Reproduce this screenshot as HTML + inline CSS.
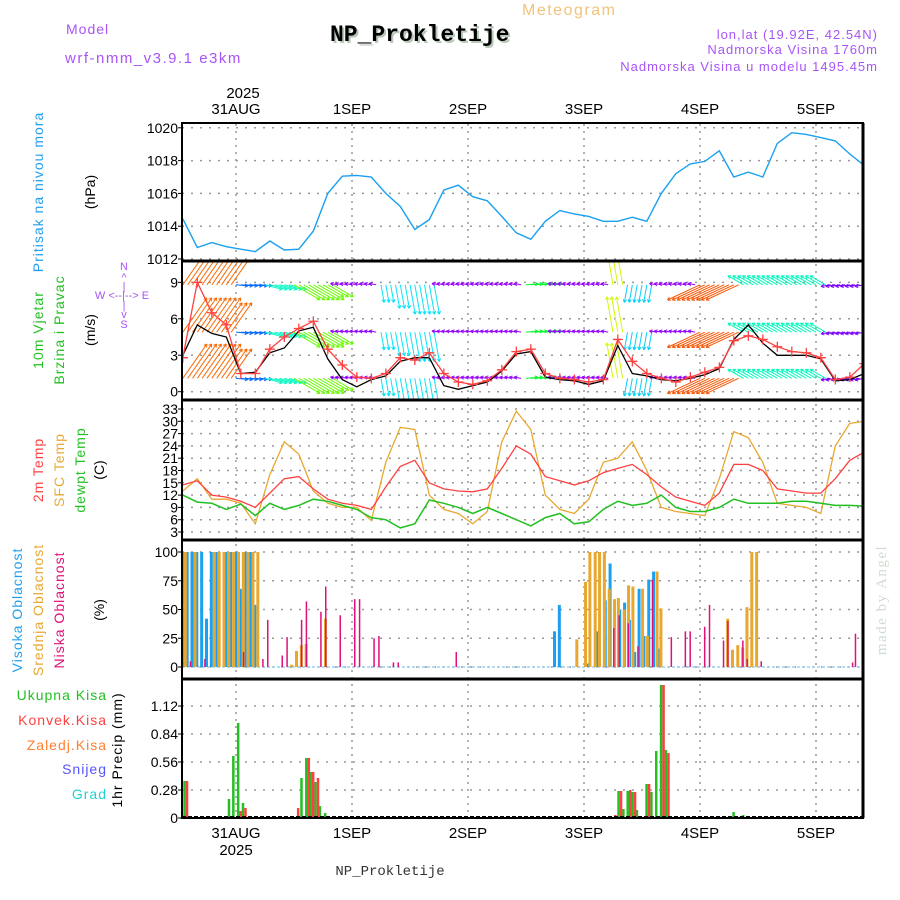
<!DOCTYPE html>
<html><head><meta charset="utf-8"><title>Meteogram NP_Prokletije</title>
<style>
html,body{margin:0;padding:0;background:#fff;}
svg{display:block;font-family:"Liberation Sans",sans-serif;}
</style></head>
<body>
<svg id="chart" width="900" height="900" viewBox="0 0 900 900" xmlns="http://www.w3.org/2000/svg">
  <defs>
    <clipPath id="c1"><rect x="183" y="124" width="680" height="137"/></clipPath>
    <clipPath id="c2"><rect x="183" y="262" width="680" height="137"/></clipPath>
    <clipPath id="c3"><rect x="183" y="401" width="680" height="138"/></clipPath>
    <clipPath id="c4"><rect x="183" y="541" width="680" height="137"/></clipPath>
    <clipPath id="c5"><rect x="183" y="680" width="680" height="137"/></clipPath>
  </defs>

  <text x="66" y="34" font-size="14" fill="#a855f7" letter-spacing="1">Model</text>
  <text x="65" y="63" font-size="15" fill="#a855f7" letter-spacing="1.5">wrf-nmm_v3.9.1 e3km</text>
  <text x="522" y="15" font-size="16" fill="#f2c37a" letter-spacing="1.5">Meteogram</text>
  <text x="332" y="43" font-size="23" font-weight="bold" fill="#b8c8b8" font-family="Liberation Mono, monospace">NP_Prokletije</text>
  <text x="330" y="41" font-size="23" font-weight="bold" fill="#000" font-family="Liberation Mono, monospace">NP_Prokletije</text>
  <text x="878" y="39" font-size="13" fill="#a855f7" text-anchor="end" letter-spacing="1">lon,lat (19.92E, 42.54N)</text>
  <text x="878" y="54" font-size="13" fill="#a855f7" text-anchor="end" letter-spacing="1">Nadmorska Visina 1760m</text>
  <text x="878" y="71" font-size="13" fill="#a855f7" text-anchor="end" letter-spacing="1">Nadmorska Visina u modelu 1495.45m</text>

  <g id="grid"></g>
  <g id="marks"></g>
  <g id="frames"></g>
  <g id="labels"></g>

  <text transform="translate(43,192) rotate(-90)" font-size="14" fill="#22a0f0" text-anchor="middle" letter-spacing="1">Pritisak na nivou mora</text>
  <text transform="translate(95,192) rotate(-90)" font-size="14" fill="#000" text-anchor="middle">(hPa)</text>

  <text transform="translate(43,330) rotate(-90)" font-size="14" fill="#22c022" text-anchor="middle" letter-spacing="1">10m Vjetar</text>
  <text transform="translate(64,330) rotate(-90)" font-size="14" fill="#22c022" text-anchor="middle" letter-spacing="1">Brzina i Pravac</text>
  <text transform="translate(95,330) rotate(-90)" font-size="14" fill="#000" text-anchor="middle">(m/s)</text>
  <g fill="#a855f7" font-size="11" text-anchor="middle">
    <text x="124" y="270">N</text><text x="124" y="281">^</text><text x="124" y="290">|</text>
    <text x="122" y="299" font-size="11">W &lt;--|--&gt; E</text>
    <text x="124" y="309">|</text><text x="124" y="318">v</text><text x="124" y="328">S</text>
  </g>

  <text transform="translate(43,470) rotate(-90)" font-size="14" fill="#ff4040" text-anchor="middle" letter-spacing="1">2m Temp</text>
  <text transform="translate(64,470) rotate(-90)" font-size="14" fill="#e8a830" text-anchor="middle" letter-spacing="1">SFC Temp</text>
  <text transform="translate(85,470) rotate(-90)" font-size="14" fill="#22c022" text-anchor="middle" letter-spacing="1">dewpt Temp</text>
  <text transform="translate(104,470) rotate(-90)" font-size="14" fill="#000" text-anchor="middle">(C)</text>

  <text transform="translate(22,610) rotate(-90)" font-size="14" fill="#22a0f0" text-anchor="middle" letter-spacing="1">Visoka Oblacnost</text>
  <text transform="translate(43,610) rotate(-90)" font-size="14" fill="#e8a830" text-anchor="middle" letter-spacing="1">Srednja Oblacnost</text>
  <text transform="translate(64,610) rotate(-90)" font-size="14" fill="#e0107a" text-anchor="middle" letter-spacing="1">Niska Oblacnost</text>
  <text transform="translate(104,610) rotate(-90)" font-size="14" fill="#000" text-anchor="middle">(%)</text>

  <g font-size="14" text-anchor="end" letter-spacing="1">
    <text x="107" y="700" fill="#22c022">Ukupna Kisa</text>
    <text x="107" y="725" fill="#ff4040">Konvek.Kisa</text>
    <text x="107" y="750" fill="#ff7f30">Zaledj.Kisa</text>
    <text x="107" y="774" fill="#5555ff">Snijeg</text>
    <text x="107" y="799" fill="#22d0d0">Grad</text>
  </g>
  <text transform="translate(122,750) rotate(-90)" font-size="14" fill="#000" text-anchor="middle" letter-spacing="1">1hr Precip (mm)</text>

  <text transform="translate(886,600) rotate(-90)" font-size="15" fill="#d0dcd0" text-anchor="middle" font-family="Liberation Serif, serif" letter-spacing="1.5">made by Angel</text>
  <text x="390" y="875" font-size="14" fill="#333" text-anchor="middle" font-family="Liberation Mono, monospace">NP_Prokletije</text>
</svg>

<script>
const dayLabels = ["31AUG","1SEP","2SEP","3SEP","4SEP","5SEP"];
const dayHours = [0,24,48,72,96,120];
const times3h = [-11,-8,-5,-2,1,4,7,10,13,16,19,22,25,28,31,34,37,40,43,46,49,52,55,58,61,64,67,70,73,76,79,82,85,88,91,94,97,100,103,106,109,112,115,118,121,124,127,130];
const pressure = [1014.45,1012.7,1013.0,1012.75,1012.6,1012.45,1013.1,1012.55,1012.6,1013.7,1016.0,1017.05,1017.1,1017.0,1016.0,1015.2,1013.8,1014.4,1016.2,1016.5,1015.8,1015.55,1014.6,1013.6,1013.2,1014.3,1014.95,1014.75,1014.6,1014.3,1014.3,1014.55,1014.3,1016.0,1017.2,1017.8,1017.95,1018.6,1017.0,1017.3,1017.0,1019.05,1019.7,1019.6,1019.4,1019.2,1018.4,1017.7];
const pressureTicks = [1012,1014,1016,1018,1020];
const windRed = [2.8,9,6.5,5.5,1.5,1.5,3.5,4.5,5.2,5.8,3.5,2.2,1.2,1.1,1.5,2.8,2.6,3.2,1.5,0.8,0.6,0.9,1.8,3.3,3.5,1.5,1.1,1.0,0.8,1.0,4.3,2.5,1.5,1.1,0.8,1.2,1.6,2.0,4.2,4.6,4.3,3.7,3.3,3.2,2.8,1.0,1.2,2.3];
const windBlack = [3.0,5.5,4.8,4.5,1.5,1.6,3.2,3.6,5.0,5.3,2.7,1.0,0.4,1.0,1.3,2.5,2.8,2.8,0.5,0.2,0.5,0.8,1.7,3.1,3.3,1.2,1.0,0.9,0.6,0.9,3.8,1.5,1.3,1.0,0.9,1.1,1.4,1.9,4.3,5.5,4.0,3.0,3.0,3.0,2.7,0.9,1.0,1.5];
const windAng = [55,55,55,55,-5,-5,-15,-15,-30,-30,-30,170,170,170,-80,-80,-80,-80,170,170,170,170,170,170,5,5,170,170,170,170,100,-100,-100,170,170,170,205,205,205,150,150,150,150,150,150,-170,-170,-170];
const windLen = [3.5,3.5,3.5,3,1,1,1.5,1.5,2.5,2.5,2,0.6,0.6,0.6,1.5,2,2.5,2.5,0.6,0.6,0.6,0.6,0.6,0.6,1,1,0.6,0.6,0.6,0.6,3,1.5,1.5,0.6,0.6,0.6,3,3,3,1.5,1.5,1.5,1.5,1.5,1.5,0.8,0.8,0.8];
const windRows = [8.8,4.9,1.1];
const windTicks = [0,3,6,9];
const temp2m = [14.5,15.5,12,11.5,10.5,9,12.5,16,16.5,13.5,11,10,9.5,8.5,14,19,20.5,15,13.5,13,12.8,13.5,18.5,24,22,16.5,15.5,14.5,15.5,17.5,18.5,19.5,17,14,11.5,10.5,9.5,12.5,19.5,19.5,18,13.5,13,12.5,12.5,16,20.5,22.5];
const tempSfc = [13,16,11,11,10,5,17,25,22,13,10,9,9,5.8,20,28.5,28,12,8.5,7.5,5,8,25,32.5,28,12,8.5,7.5,11,20,21,25,18,9,8,7.5,7,16,27.5,26,20,10,9.5,9,7.5,24,29.5,30];
const tempDew = [12,10.3,10,8.5,9.8,7,10,8.5,9.5,11,10.5,9.5,8.5,6.5,6,4,5,10.8,10,9,7.5,9,7.5,6,4.5,6.5,7.5,5,5.5,8.5,10.5,9.5,10,12,9,8,8,9,11,10,10,10,10.5,10.5,10,9.5,9.5,9.3];
const tempTicks = [3,6,9,12,15,18,21,24,27,30,33];
const cloudHighT = [-11,-10,-9,-8,-7,-6,-5,-4,-2,-1,0,1,2,3,4,66,67,73,75,76.5,77.5,79.5,80.5,81.5,82.6,83.5,84.5,85.5,86.5,87.4];
const cloudHighV = [100,100,100,100,100,42,100,100,100,100,100,68,100,100,54,31,54,3,31,58,90,50,56,41,13,68,27,76,83,16];
const cloudMidT = [-11,-9,-5,-4,-3,-2,-1,0,1,2,3,4,11,12,13,14,18,70,71.8,72.7,73.8,74.7,75.7,76.7,77.8,78.6,79.8,80.7,81.6,83.6,84.6,86.6,87.4,101.2,102.2,103.3,104.3,105.2,106.2,107.2];
const cloudMidV = [100,100,100,100,100,100,100,100,100,100,100,100,2,14,19,20,42,24,74,100,100,100,100,68,59,60,50,71,70,68,27,83,51,42,15,19,17,52,100,100];
const cloudLowT = [-10,-7,1,5,6,9,10,13,14,17,18,21,24,25,28,29,32,33,45,77.6,78.7,80.6,82.6,85.6,89.5,92.4,93.4,96.4,97.4,100.3,101.2,104.3,105.2,108.1,127,127.6];
const cloudLowV = [5,7,13,7,41,10,26,41,57,48,70,45,59,59,25,27,4,4,13,34,45,38,18,76,26,31,31,35,54,23,40,23,7,5,4,29];
const cloudTicks = [0,25,50,75,100];
const rainTotalT = [-10.6,-1.4,-0.5,0.5,1.5,13.6,14.6,15.5,16.5,17.4,18.5,79.2,80.2,81.1,82.1,83,85,86,87,88,89,103,105];
const rainTotalV = [0.37,0.19,0.62,0.95,0.15,0.4,0.6,0.46,0.36,0.12,0.05,0.27,0.09,0.27,0.26,0.08,0.34,0.26,0.67,1.33,0.68,0.06,0.03];
const rainConvT = [-10.6,0.5,1.5,12.4,14.6,15.5,16.5,78,79.2,81.1,82.1,85,88,89,104];
const rainConvV = [0.37,0.07,0.1,0.1,0.6,0.46,0.4,0.03,0.27,0.28,0.26,0.34,1.33,0.65,0.02];
const precipTicks = [0,0.28,0.56,0.84,1.12];

const X0 = 182, X1 = 863;
const X = h => 236 + h * 116 / 24;
const P = {top:[123,261,400,540,679], bot:[261,400,540,679,818]};
const yP = v => 259 - (v - 1012) * 16.4;
const yW = v => 391.7 - v * 12.15;
const yT = v => 532 - (v - 3) * 4.1;
const yC = v => 667 - v * 1.15;
const yR = v => 818 - v * 100;

const NS = "http://www.w3.org/2000/svg";
function mk(tag, attrs, parent) {
  const e = document.createElementNS(NS, tag);
  for (const k in attrs) e.setAttribute(k, attrs[k]);
  parent.appendChild(e);
  return e;
}
const grid = document.getElementById('grid');
const marks = document.getElementById('marks');
const frames = document.getElementById('frames');
const labels = document.getElementById('labels');

function hgrid(ticks, yf, fmt, name) {
  ticks.forEach(t => {
    const l = mk('line', {x1:X0, x2:X1, y1:yf(t), y2:yf(t), stroke:'#999', 'stroke-width':1.5, 'stroke-dasharray':'2,7'}, grid);
    
    
    const tx = mk('text', {x:178, y:yf(t) + 5, 'font-size':14, 'text-anchor':'end', fill:'#000'}, labels);
    tx.textContent = fmt(t);
    
    
    mk('line', {x1:X0 - 4, x2:X0, y1:yf(t), y2:yf(t), stroke:'#000'}, labels);
  });
}
hgrid(pressureTicks, yP, t => String(t), 'pressure');
hgrid(windTicks, yW, t => String(t), 'wind');
hgrid(tempTicks, yT, t => String(t), 'temp');
hgrid(cloudTicks, yC, t => String(t), 'cloud');
hgrid(precipTicks, yR, t => t === 0 ? '0' : t.toFixed(2), 'precip');

dayHours.forEach((d, i) => {
  const gl = mk('line', {x1:X(d), x2:X(d), y1:124, y2:818, stroke:'#999', 'stroke-width':1.5, 'stroke-dasharray':'2,5'}, grid);
  
  
  const t1 = mk('text', {x:X(d), y:114, 'font-size':15, 'text-anchor':'middle', fill:'#000'}, labels);
  t1.textContent = dayLabels[i];
  
  
  const t2 = mk('text', {x:X(d), y:838, 'font-size':15, 'text-anchor':'middle', fill:'#000'}, labels);
  t2.textContent = dayLabels[i];
  
  
});
const y1 = mk('text', {x:X(0) + 7, y:98, 'font-size':15, 'text-anchor':'middle'}, labels);
y1.textContent = '2025';


const y2 = mk('text', {x:X(0), y:855, 'font-size':15, 'text-anchor':'middle'}, labels);
y2.textContent = '2025';



function polyline(vals, yf, color, clip, name, w) {
  const pts = times3h.map((t, i) => X(t).toFixed(1) + ',' + yf(vals[i]).toFixed(1)).join(' ');
  const p = mk('polyline', {points:pts, fill:'none', stroke:color, 'stroke-width':w || 1.3, 'clip-path':'url(#' + clip + ')'}, marks);
  
  
  return p;
}

polyline(pressure, yP, '#1aa0f0', 'c1', 'pressure-line', 1.4);

const anchors = [[-180,280],[-100,190],[-80,185],[-30,95],[-5,215],[5,130],[55,25],[100,70],[150,165],[170,275],[195,285],[205,20],[360,280]];
function windColor(a) {
  if (a < -180) a += 360;
  if (a > 205) a -= 360;
  for (let i = 0; i < anchors.length - 1; i++) {
    const [a0, h0] = anchors[i], [a1, h1] = anchors[i + 1];
    if (a >= a0 && a <= a1) {
      const f = (a - a0) / (a1 - a0 || 1);
      return 'hsl(' + (h0 + (h1 - h0) * f) + ',95%,50%)';
    }
  }
  return 'hsl(280,90%,55%)';
}
const wg = mk('g', {'clip-path':'url(#c2)'}, marks);


for (let h = -11; h <= 130; h += 1) {
  const idx = Math.min(times3h.length - 1, Math.max(0, Math.round((h - times3h[0]) / 3)));
  const a = windAng[idx] * Math.PI / 180;
  const L = windLen[idx] * 12;
  const col = windColor(windAng[idx]);
  windRows.forEach(r => {
    const x0 = X(h), y0 = yW(r);
    const x1 = x0 + L * Math.cos(a), y1e = y0 - L * Math.sin(a);
    const ar = mk('path', {
      d: 'M' + x0 + ' ' + y0 + 'L' + x1 + ' ' + y1e +
         'M' + x1 + ' ' + y1e + 'L' + (x1 - 3.5 * Math.cos(a - 0.5)) + ' ' + (y1e + 3.5 * Math.sin(a - 0.5)) +
         'M' + x1 + ' ' + y1e + 'L' + (x1 - 3.5 * Math.cos(a + 0.5)) + ' ' + (y1e + 3.5 * Math.sin(a + 0.5)),
      stroke: col, 'stroke-width': 1, fill: 'none'}, wg);
    
    
  });
}
polyline(windBlack, yW, '#000', 'c2', 'wind-speed-black-line', 1.3);
polyline(windRed, yW, '#ff4040', 'c2', 'wind-gust-red-line', 1.3);
const mg = mk('g', {'clip-path':'url(#c2)', stroke:'#ff4040', 'stroke-width':1.3}, marks);
times3h.forEach((t, i) => {
  const x = X(t), y = yW(windRed[i]);
  const m = mk('path', {d:'M' + (x - 5) + ' ' + y + 'H' + (x + 5) + 'M' + x + ' ' + (y - 5) + 'V' + (y + 5)}, mg);
  
  
});

polyline(tempSfc, yT, '#e8a830', 'c3', 'sfc-temp-line', 1.3);
polyline(temp2m, yT, '#ff4040', 'c3', 'temp-2m-line', 1.3);
polyline(tempDew, yT, '#22c022', 'c3', 'dewpoint-line', 1.5);

const cg = mk('g', {'clip-path':'url(#c4)'}, marks);
mk('line', {x1:X0, x2:X1, y1:667, y2:667, stroke:'#9bd0f0', 'stroke-width':1.5, 'stroke-dasharray':'3,2'}, cg);
function bars(T, V, color, off, w, name) {
  T.forEach((t, i) => {
    const y = yC(V[i]);
    const b = mk('rect', {x:X(t) + off, y:y, width:w, height:667 - y, fill:color}, cg);
    
    
  });
}
bars(cloudHighT, cloudHighV, '#1aa0f0', -2, 3, 'high-cloud-bar');
bars(cloudMidT, cloudMidV, '#e8a830', 1, 3, 'mid-cloud-bar');
bars(cloudLowT, cloudLowV, '#e0107a', 2, 1.5, 'low-cloud-bar');

const pg = mk('g', {'clip-path':'url(#c5)'}, marks);
function pbars(T, V, color, off, name) {
  T.forEach((t, i) => {
    const y = yR(V[i]);
    const b = mk('rect', {x:X(t) + off, y:y, width:2.5, height:818 - y, fill:color}, pg);
    
    
  });
}
pbars(rainTotalT, rainTotalV, '#22c022', -1.5, 'total-rain-bar');
pbars(rainConvT, rainConvV, '#ff4040', 1, 'convective-rain-bar');
mk('line', {x1:X0, x2:X1, y1:817, y2:817, stroke:'#000', 'stroke-width':2, 'stroke-dasharray':'4,2'}, pg);

P.top.forEach((t, i) => {
  const r = mk('rect', {x:X0, y:t, width:X1 - X0, height:P.bot[i] - t, fill:'none', stroke:'#000', 'stroke-width':2}, frames);
  
  
});
[261,400,540,679].forEach(y => mk('line', {x1:X0, x2:X1, y1:y, y2:y, stroke:'#000', 'stroke-width':3}, frames));
mk('line', {x1:X1, x2:X1, y1:123, y2:818, stroke:'#000', 'stroke-width':3}, frames);
</script>
</body></html>
